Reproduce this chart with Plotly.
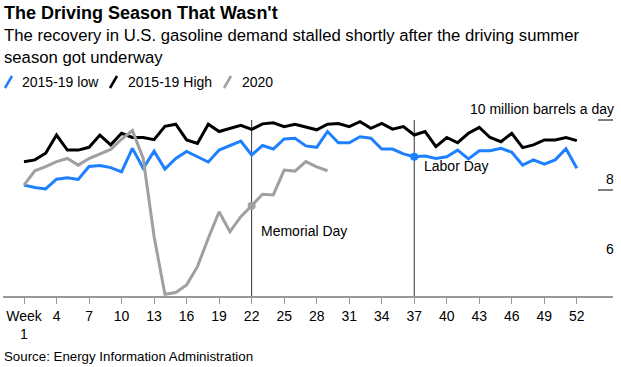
import plotly.graph_objects as go

weeks = list(range(1, 53))
low_2015_19 = [8.14, 8.07, 8.03, 8.31, 8.35, 8.30, 8.67, 8.70, 8.64, 8.52,
               9.19, 8.62, 9.11, 8.60, 8.90, 9.10, 8.95, 8.80, 9.14, 9.27,
               9.40, 9.00, 9.27, 9.17, 9.46, 9.48, 9.26, 9.22, 9.67, 9.35,
               9.35, 9.52, 9.48, 9.17, 9.17, 9.03, 8.95, 8.97, 8.90, 8.95,
               9.14, 8.89, 9.12, 9.12, 9.19, 9.08, 8.71, 8.86, 8.74, 8.86,
               9.18, 8.62]
high_2015_19 = [8.81, 8.86, 9.05, 9.57, 9.14, 9.14, 9.22, 9.57, 9.29, 9.62,
                9.50, 9.50, 9.44, 9.82, 9.88, 9.43, 9.33, 9.88, 9.67, 9.76,
                9.85, 9.73, 9.89, 9.92, 9.81, 9.88, 9.79, 9.72, 9.88, 9.90,
                9.81, 9.95, 9.76, 9.90, 9.74, 9.81, 9.57, 9.67, 9.24, 9.50,
                9.35, 9.62, 9.79, 9.50, 9.38, 9.62, 9.21, 9.29, 9.43, 9.43,
                9.50, 9.41]
weeks_2020 = list(range(1, 30))
y2020 = [8.14, 8.55, 8.67, 8.81, 8.90, 8.71, 8.90, 9.02, 9.16, 9.45,
         9.70, 8.90, 6.67, 5.02, 5.07, 5.29, 5.81, 6.62, 7.38, 6.81,
         7.24, 7.55, 7.88, 7.86, 8.57, 8.54, 8.81, 8.66, 8.55]

tick_weeks = list(range(1, 53, 3))
tick_text = ["Week<br>1"] + [str(w) for w in tick_weeks[1:]]
memorial_week = 22
labor_week = 37
y_ticks = [10, 8, 6]
y_tick_text = ["10 million barrels a day", "8", "6"]

BLUE = "#1f80ff"
BLACK = "#000000"
GRAY = "#a0a0a0"
FONT = "Liberation Sans, Arial, sans-serif"

W, H = 621, 367
ML, MR, MT, MB = 3, 8, 100, 71
plot_w = W - ML - MR
plot_h = H - MT - MB


def px(x):
    return (x - ML) / plot_w


def py(y):
    return (H - MB - y) / plot_h


fig = go.Figure()
fig.add_trace(go.Scatter(x=weeks, y=low_2015_19, mode="lines",
                         line=dict(color=BLUE, width=3), name="2015-19 low"))
fig.add_trace(go.Scatter(x=weeks, y=high_2015_19, mode="lines",
                         line=dict(color=BLACK, width=3), name="2015-19 High"))
fig.add_trace(go.Scatter(x=weeks_2020, y=y2020, mode="lines",
                         line=dict(color=GRAY, width=3), name="2020"))
fig.add_trace(go.Scatter(x=[memorial_week], y=[y2020[memorial_week - 1]], mode="markers",
                         marker=dict(color=GRAY, size=8), showlegend=False))
fig.add_trace(go.Scatter(x=[labor_week], y=[low_2015_19[labor_week - 1]], mode="markers",
                         marker=dict(color=BLUE, size=8), showlegend=False))

shapes = []
for wk in (memorial_week, labor_week):
    shapes.append(dict(type="line", xref="x", yref="y", x0=wk, x1=wk, y0=10,
                       y1=4.95, line=dict(color="#333333", width=1), layer="below"))
for v in y_ticks[:2]:
    shapes.append(dict(type="line", xref="paper", yref="y", x0=px(598), x1=1,
                       y0=v, y1=v, line=dict(color="#000000", width=1)))

annotations = []
# y labels
for v, t in zip(y_ticks, y_tick_text):
    annotations.append(dict(xref="paper", yref="y", x=1, y=v, text=t,
                            xanchor="right", yanchor="bottom", showarrow=False,
                            xshift=3, yshift=1,
                            font=dict(size=14, color="#000", family=FONT)))
annotations.append(dict(xref="x", yref="y", x=memorial_week + 0.72, y=6.84,
                        text="Memorial Day", xanchor="left", yanchor="middle",
                        showarrow=False, font=dict(size=14, color="#000", family=FONT)))
annotations.append(dict(xref="x", yref="y", x=labor_week + 0.72, y=8.68,
                        text="Labor Day", xanchor="left", yanchor="middle",
                        showarrow=False, font=dict(size=14, color="#000", family=FONT)))

# custom legend
legend_items = [("2015-19 low", BLUE, 4, 20), ("2015-19 High", BLACK, 109, 126),
                ("2020", GRAY, 223, 240)]
for name, col, sx, tx in legend_items:
    shapes.append(dict(type="line", xref="paper", yref="paper",
                       x0=px(sx + 1), y0=py(88), x1=px(sx + 8), y1=py(76),
                       line=dict(color=col, width=2.5)))
    annotations.append(dict(xref="paper", yref="paper", x=px(tx), y=py(82), text=name,
                            xanchor="left", yanchor="middle", showarrow=False,
                            font=dict(size=14, color="#000", family=FONT)))

# titles and source
annotations.append(dict(xref="paper", yref="paper", x=px(2), y=py(13),
                        text="<b>The Driving Season That Wasn't</b>", xanchor="left",
                        yanchor="middle", showarrow=False,
                        font=dict(size=18, color="#000", family=FONT)))
annotations.append(dict(xref="paper", yref="paper", x=px(2), y=py(46),
                        text="The recovery in U.S. gasoline demand stalled shortly after the driving summer<br>season got underway",
                        xanchor="left", yanchor="middle", align="left", showarrow=False,
                        font=dict(size=16.7, color="#000", family=FONT)))
annotations.append(dict(xref="paper", yref="paper", x=px(2), y=py(356),
                        text="Source: Energy Information Administration", xanchor="left",
                        yanchor="middle", showarrow=False,
                        font=dict(size=13.3, color="#000", family=FONT)))

fig.update_layout(
    width=W, height=H,
    margin=dict(l=ML, r=MR, t=MT, b=MB),
    paper_bgcolor="white", plot_bgcolor="white",
    showlegend=False,
    font=dict(family=FONT, size=14, color="#000"),
    shapes=shapes, annotations=annotations,
    xaxis=dict(range=[1 - 21 / 10.84, 1 + 589 / 10.84], tickvals=tick_weeks,
               ticktext=tick_text, showgrid=False, zeroline=False,
               showline=True, linecolor="#999999", linewidth=2,
               ticks="outside", ticklen=6, tickcolor="#999999", tickwidth=1,
               tickfont=dict(size=14, color="#000", family=FONT)),
    yaxis=dict(range=[10 - 176 / 35, 10 + 20 / 35], showgrid=False, zeroline=False,
               showticklabels=False, showline=False),
)

fig.write_html("out.html", config={"displayModeBar": False},
               post_script="document.body.style.margin='0px';document.body.style.overflow='hidden';")
